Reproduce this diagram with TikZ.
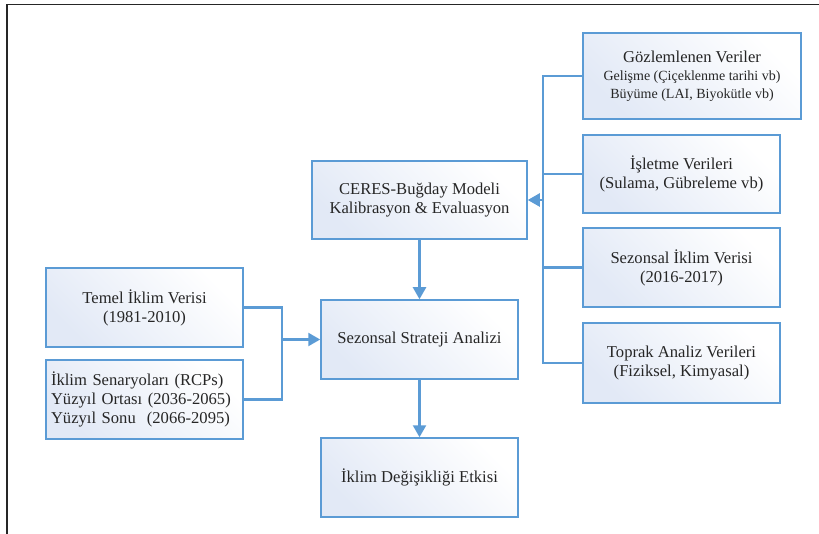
\documentclass[tikz,border=0pt]{standalone}
\usepackage{fontspec}
\setmainfont{Liberation Serif}
\usetikzlibrary{arrows.meta}
\definecolor{edgeblue}{RGB}{91,155,213}
\definecolor{fillblue}{RGB}{226,233,246}
\definecolor{txt}{RGB}{38,38,38}
\tikzset{
  box/.style={draw=edgeblue, line width=1.5pt, left color=fillblue, right color=white,
    shading angle=135, text=txt, align=center, inner sep=3pt,
    font=\fontsize{16.6}{19}\selectfont},
  conn/.style={draw=edgeblue, line width=2.3pt},
  arr/.style={conn, -{Triangle[length=12pt,width=13pt]}},
  frame/.style={draw=black!85, line width=1.6pt}
}
\begin{document}
\begin{tikzpicture}[x=1pt,y=-1pt]
\useasboundingbox (0,0) rectangle (819,534);
% outer frame (top and left edges)
\draw[frame] (7,534) -- (7,4.5) -- (819,4.5);

% right-hand input boxes
\node[box, minimum width=218, minimum height=86] (gozlem) at (692,76)
  {G\"ozlemlenen Veriler\\[-1pt]
   {\fontsize{14}{18}\selectfont Geli\c{s}me (\c{C}i\c{c}eklenme tarihi vb)}\\[-1pt]
   {\fontsize{14}{18}\selectfont B\"uy\"ume (LAI, Biyok\"utle vb)}};
\node[box, minimum width=197, minimum height=78] (isletme) at (681.5,174)
  {\.I\c{s}letme Verileri\\(Sulama, G\"ubreleme vb)};
\node[box, minimum width=197, minimum height=79] (sezon) at (681.5,267.5)
  {Sezonsal \.Iklim Verisi\\(2016-2017)};
\node[box, minimum width=197, minimum height=80] (toprak) at (681.5,363)
  {Toprak Analiz Verileri\\(Fiziksel, Kimyasal)};

% central chain
\node[box, minimum width=215, minimum height=78] (ceres) at (419.5,200)
  {CERES-Bu\u{g}day Modeli\\Kalibrasyon \& Evaluasyon};
\node[box, minimum width=197, minimum height=79] (strateji) at (419.5,339.5)
  {Sezonsal Strateji Analizi};
\node[box, minimum width=197, minimum height=79] (etki) at (419.5,477.5)
  {\.Iklim De\u{g}i\c{s}ikli\u{g}i Etkisi};

% left-hand climate inputs
\node[box, minimum width=197, minimum height=79] (temel) at (144.5,307.5)
  {Temel \.Iklim Verisi\\(1981-2010)};
\node[box, minimum width=197, minimum height=79, text width=187, align=left, inner xsep=5pt] (senaryo) at (144.5,399.5)
  {\.Iklim Senaryolar\i{} (RCPs)\\Y\"uzy\i l Ortas\i{} (2036-2065)\\Y\"uzy\i l Sonu\ \ (2066-2095)};

% bus on the right feeding the model
\coordinate (bus) at (543,0);
\draw[conn] (gozlem.west) -- (gozlem.west -| bus) |- (toprak.west);
\draw[conn] (isletme.west) -- (isletme.west -| bus);
\draw[conn] (sezon.west) -- (sezon.west -| bus);
\draw[arr] (ceres.east -| bus) -- (ceres.east);

% join of the two climate inputs
\coordinate (join) at (282,0);
\draw[conn] (temel.east) -- (temel.east -| join) |- (senaryo.east);
\draw[arr] (strateji.west -| join) -- (strateji.west);

% vertical flow
\draw[arr] (ceres.south) -- (strateji.north);
\draw[arr] (strateji.south) -- (etki.north);
\end{tikzpicture}
\end{document}
